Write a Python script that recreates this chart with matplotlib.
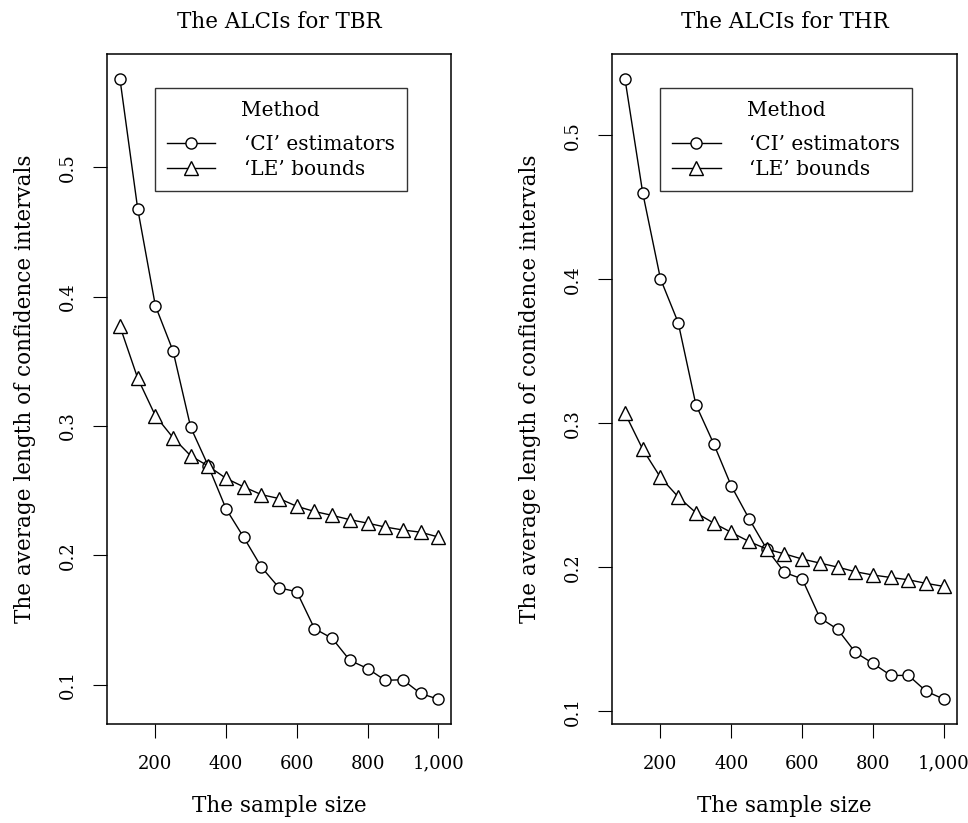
import numpy as np
import matplotlib
matplotlib.use("Agg")
import matplotlib.pyplot as plt

plt.rcParams['font.family'] = ['DejaVu Serif']
plt.rcParams['font.size'] = 15.5

# sample sizes
sample_size = list(range(100, 1001, 50))

# The ALCIs for TBR
tbr_ci = [0.568, 0.468, 0.393, 0.358, 0.299, 0.269, 0.236, 0.214, 0.191, 0.175,
          0.172, 0.1435, 0.136, 0.119, 0.1127, 0.1036, 0.104, 0.0934, 0.089]
tbr_le = [0.377, 0.337, 0.308, 0.291, 0.277, 0.269, 0.2596, 0.253, 0.247, 0.244,
          0.238, 0.234, 0.231, 0.2277, 0.225, 0.222, 0.2197, 0.218, 0.2143]

# The ALCIs for THR
thr_ci = [0.539, 0.460, 0.4004, 0.370, 0.313, 0.286, 0.2565, 0.2338, 0.2127, 0.1965,
          0.192, 0.165, 0.157, 0.141, 0.1333, 0.125, 0.125, 0.114, 0.1085]
thr_le = [0.307, 0.282, 0.2625, 0.249, 0.238, 0.2308, 0.2243, 0.218, 0.2127, 0.2094,
          0.2058, 0.203, 0.2002, 0.197, 0.1947, 0.193, 0.1914, 0.1889, 0.1868]

titles = ["The ALCIs for TBR", "The ALCIs for THR"]
legend_labels = ["\u2018CI\u2019 estimators", "\u2018LE\u2019 bounds"]
x_ticks = [200, 400, 600, 800, 1000]
x_ticklabels = ["200", "400", "600", "800", "1,000"]
y_ticks = [0.1, 0.2, 0.3, 0.4, 0.5]

fig = plt.figure(figsize=(9.68, 8.23), dpi=100)
ax1 = fig.add_axes([0.1108, 0.1203, 0.3551, 0.8137])
ax2 = fig.add_axes([0.6325, 0.1203, 0.3558, 0.8137])

for ax, ci, le, title in [(ax1, tbr_ci, tbr_le, titles[0]), (ax2, thr_ci, thr_le, titles[1])]:
    ax.plot(sample_size, ci, color='black', lw=1.0, marker='o', ms=8,
            mfc='white', mec='black', mew=1.0, label=legend_labels[0])
    ax.plot(sample_size, le, color='black', lw=1.0, marker='^', ms=9.5,
            mfc='white', mec='black', mew=1.0, label=legend_labels[1])
    ax.margins(x=0.04, y=0.04)
    ax.set_xticks(x_ticks)
    ax.set_xticklabels(x_ticklabels)
    ax.set_yticks(y_ticks)
    ax.set_yticklabels([str(v) for v in y_ticks], rotation=90, va='center')
    ax.tick_params(direction='out', length=10, width=0.8, pad=12, labelsize=13)
    for s in ax.spines.values():
        s.set_linewidth(1.1)
    ax.set_title(title, pad=19, fontsize=15.5)
    ax.set_xlabel("The sample size", labelpad=16)
    ax.set_ylabel("The average length of confidence intervals", labelpad=16)
    leg = ax.legend(title="Method", loc='upper left', bbox_to_anchor=(0.139, 0.949),
                    frameon=True, fancybox=False, edgecolor='black',
                    handlelength=2.4, handletextpad=1.4, borderpad=0.6,
                    borderaxespad=0, labelspacing=0.3, fontsize=14.5,
                    title_fontsize=14.5)
    leg._legend_box.sep = 11
    leg.get_frame().set_linewidth(1.0)

plt.savefig('out.png', dpi=100)
